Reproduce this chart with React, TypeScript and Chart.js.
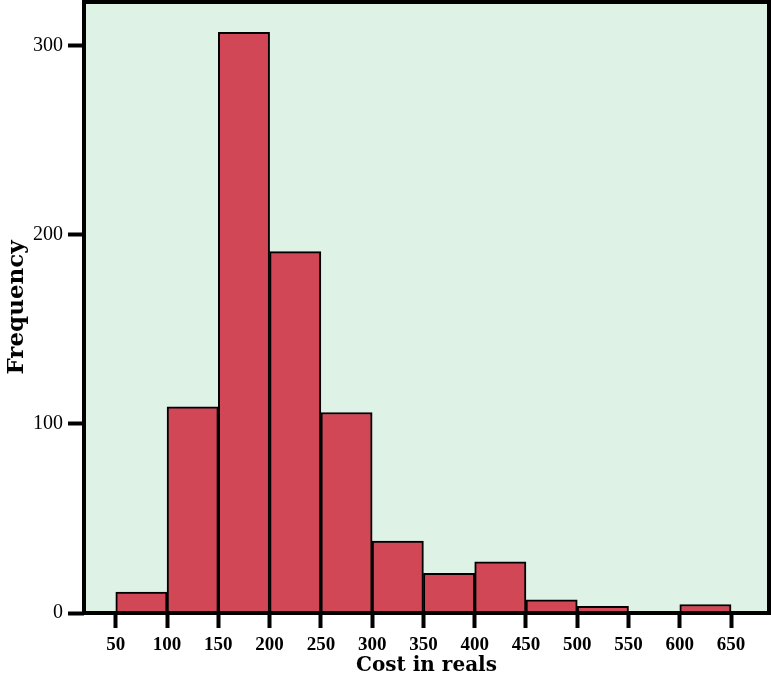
import React, { useEffect, useRef } from "react";
import { Chart, registerables } from "chart.js";

Chart.register(...registerables);

const binStarts = [50, 100, 150, 200, 250, 300, 350, 400, 450, 500, 550, 600];
const binWidth = 50;
const frequencies = [11, 109, 307, 191, 106, 38, 21, 27, 7, 3.5, 0, 4.5];
const xTicks = [50, 100, 150, 200, 250, 300, 350, 400, 450, 500, 550, 600, 650];
const yTicks = [0, 100, 200, 300];
const xTitle = "Cost in reals";
const yTitle = "Frequency";

const BG = "#def3e6";
const BAR = "#d24756";

const framePlugin = {
  id: "frame",
  beforeDraw(chart: any) {
    const { ctx, chartArea } = chart;
    ctx.save();
    ctx.fillStyle = BG;
    ctx.fillRect(chartArea.left, chartArea.top, chartArea.right - chartArea.left, chartArea.bottom - chartArea.top);
    ctx.restore();
  },
  afterDatasetsDraw(chart: any) {
    const { ctx, chartArea } = chart;
    ctx.save();
    ctx.strokeStyle = "#000";
    ctx.lineWidth = 4;
    ctx.strokeRect(chartArea.left, chartArea.top, chartArea.right - chartArea.left, chartArea.bottom - chartArea.top);
    ctx.restore();
  },
};

export default function App() {
  const ref = useRef<HTMLCanvasElement | null>(null);
  useEffect(() => {
    if (!ref.current) return;
    const data = binStarts.map((s, i) => ({ x: s + binWidth / 2, y: frequencies[i] }));
    const chart = new Chart(ref.current, {
      type: "bar",
      data: {
        datasets: [
          {
            data: data as any,
            backgroundColor: BAR,
            borderColor: "#000",
            borderWidth: 2,
            borderSkipped: "start",
            barPercentage: 1,
            categoryPercentage: 1,
          },
        ],
      },
      options: {
        animation: false,
        responsive: false,
        maintainAspectRatio: false,
        layout: { padding: { top: 2, right: 2, left: 0, bottom: 0 } },
        plugins: { legend: { display: false }, tooltip: { enabled: false } },
        scales: {
          x: {
            type: "linear",
            min: 19,
            max: 687,
            offset: false,
            afterBuildTicks: (axis: any) => {
              axis.ticks = xTicks.map((v) => ({ value: v }));
            },
            afterFit: (axis: any) => {
              axis.height = 65;
              axis.paddingLeft = 0;
              axis.paddingRight = 0;
            },
            border: { display: false },
            grid: {
              display: true,
              offset: false,
              drawOnChartArea: false,
              drawTicks: true,
              tickLength: 15,
              tickWidth: 4,
              tickColor: "#000",
            },
            ticks: {
              autoSkip: false,
              maxRotation: 0,
              padding: 6,
              color: "#000",
              font: { family: "'Liberation Serif', serif", size: 19, weight: "bold" },
            },
            title: {
              display: true,
              text: xTitle,
              color: "#000",
              padding: { top: 0, bottom: 0 },
              font: { family: "'DejaVu Serif', serif", size: 20, weight: "bold" },
            },
          },
          y: {
            type: "linear",
            min: 0,
            max: 323,
            afterBuildTicks: (axis: any) => {
              axis.ticks = yTicks.map((v) => ({ value: v }));
            },
            afterFit: (axis: any) => {
              axis.width = 84;
              axis.paddingTop = 0;
              axis.paddingBottom = 0;
            },
            border: { display: false },
            grid: {
              display: true,
              drawOnChartArea: false,
              drawTicks: true,
              tickLength: 16,
              tickWidth: 4,
              tickColor: "#000",
            },
            ticks: {
              padding: 5,
              color: "#000",
              font: { family: "'Liberation Serif', serif", size: 20 },
            },
            title: {
              display: true,
              text: yTitle,
              color: "#000",
              padding: { top: 3, bottom: 0 },
              font: { family: "'DejaVu Serif', serif", size: 23, weight: "bold" },
            },
          },
        },
      },
      plugins: [framePlugin],
    });
    return () => chart.destroy();
  }, []);

  return (
    <div style={{ position: "fixed", left: 0, top: 0, width: 771, height: 678, background: "#fff" }}>
      <canvas ref={ref} width={771} height={678} style={{ display: "block", width: 771, height: 678 }} />
    </div>
  );
}
